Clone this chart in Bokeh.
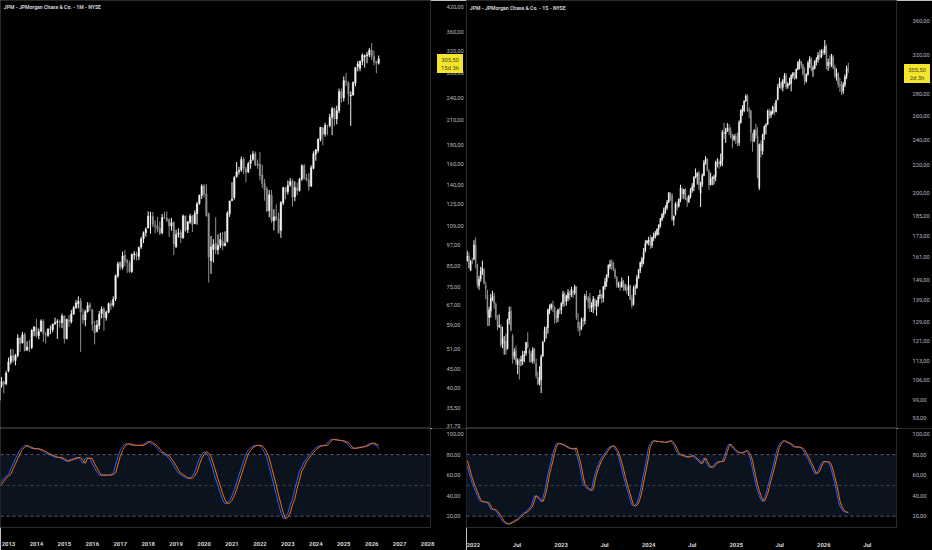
import pandas as pd
from bokeh.plotting import figure
from bokeh.models import (Range1d, FixedTicker, CustomJSTickFormatter, BoxAnnotation,
                          Span, Label, ColumnDataSource)
from bokeh.models import dom as bdom
from bokeh.layouts import gridplot
from bokeh.embed import file_html
from bokeh.resources import INLINE

# ---------------- data: monthly JPM (Sep 2012 .. Apr 2026) ----------------
m_open = [37.2, 40.6, 41.7, 41.2,
          44.6, 47.1, 49.0, 47.5, 49.0, 54.6, 53.0, 55.8, 50.6, 51.6, 51.5, 57.0,
          58.3, 55.4, 56.9, 60.5, 55.8, 55.5, 57.7, 57.5, 59.6, 60.2, 60.4, 60.0,
          62.6, 54.4, 61.0, 60.4, 63.3, 65.8, 67.5, 68.6, 63.0, 61.0, 64.2, 67.0,
          64.9, 59.0, 56.9, 59.0, 63.4, 65.3, 61.8, 64.0, 67.6, 66.9, 69.5, 80.1,
          87.3, 84.5, 91.0, 88.0, 86.6, 82.3, 91.3, 91.8, 90.3, 95.8, 100.8, 104.6,
          107.6, 115.5, 115.5, 109.5, 109.0, 107.3, 104.5, 115.0, 114.4, 113.3, 109.0, 111.5,
          95.9, 103.8, 104.7, 101.5, 116.0, 106.4, 111.6, 115.8, 110.5, 117.5, 125.3, 131.6,
          139.8, 132.8, 117.5, 87.9, 94.3, 98.0, 94.0, 96.6, 99.0, 96.5, 99.0, 117.5,
          127.5, 129.8, 148.0, 152.5, 154.0, 164.5, 155.0, 152.2, 160.3, 164.2, 170.3, 159.9,
          159.7, 149.4, 141.6, 137.0, 120.0, 131.6, 112.4, 115.6, 114.0, 106.0, 125.7, 138.0,
          134.7, 140.3, 143.9, 130.3, 138.0, 135.5, 145.5, 158.0, 146.6, 145.0, 139.5, 155.6,
          169.6, 173.5, 186.0, 199.5, 192.2, 202.6, 202.5, 213.0, 225.0, 210.8, 221.9, 249.6,
          240.5, 266.0, 264.0, 243.0, 244.0, 263.0, 291.0, 288.0, 301.0, 309.5, 311.5, 313.5,
          322.5, 310.0, 300.5, 297.5]
m_high = [42.0, 42.9, 42.0, 44.6,
          48.4, 51.0, 51.0, 49.5, 55.9, 55.0, 56.7, 56.5, 53.5, 54.0, 57.7, 58.6,
          61.5, 57.9, 61.3, 61.3, 56.7, 58.0, 59.0, 59.7, 61.9, 61.3, 61.2, 63.5,
          62.8, 61.5, 62.9, 64.9, 66.5, 69.0, 70.6, 69.9, 65.5, 65.0, 68.1, 68.0,
          65.5, 60.7, 61.0, 64.5, 66.4, 66.2, 64.6, 68.0, 68.8, 70.6, 80.8, 87.4,
          87.4, 93.0, 94.0, 88.9, 88.0, 92.0, 93.3, 93.0, 96.0, 102.0, 105.4, 108.0,
          119.3, 119.0, 118.8, 112.8, 115.1, 112.1, 117.4, 119.0, 119.2, 114.3, 114.5, 112.1,
          106.5, 107.5, 106.4, 117.0, 116.2, 112.4, 117.5, 116.6, 120.0, 126.4, 132.2, 141.1,
          141.1, 141.1, 118.4, 102.5, 100.5, 115.0, 103.5, 104.5, 105.0, 105.4, 119.4, 127.5,
          142.8, 148.2, 161.7, 157.0, 167.4, 166.5, 157.0, 161.9, 169.3, 173.0, 172.5, 164.2,
          172.1, 159.0, 145.5, 138.9, 136.0, 136.0, 120.8, 124.6, 118.4, 127.0, 138.7, 138.7,
          144.3, 146.5, 145.7, 143.5, 142.5, 146.7, 159.4, 159.7, 150.2, 151.0, 158.5, 172.8,
          175.0, 187.0, 200.9, 200.8, 205.9, 203.5, 217.6, 227.0, 226.2, 229.0, 254.3, 254.3,
          274.2, 280.3, 265.7, 250.0, 266.0, 290.0, 301.3, 302.0, 316.0, 314.0, 319.0, 327.0,
          337.0, 321.5, 302.0, 312.0]
m_low = [36.7, 40.2, 38.8, 40.8,
         44.2, 46.4, 46.8, 46.1, 48.5, 50.1, 52.8, 50.3, 50.5, 50.0, 51.0, 55.2,
         54.8, 54.2, 56.6, 53.3, 52.8, 55.0, 55.9, 56.6, 59.2, 54.3, 58.3, 58.0,
         52.8, 54.2, 58.5, 59.7, 63.0, 65.4, 65.6, 50.1, 59.6, 58.7, 63.9, 64.5,
         57.1, 52.5, 56.5, 57.6, 61.6, 57.1, 60.8, 63.6, 64.9, 66.1, 68.6, 79.2,
         83.0, 83.3, 85.0, 81.6, 81.6, 81.6, 88.5, 88.1, 88.3, 94.6, 98.1, 102.0,
         107.4, 103.9, 108.0, 104.2, 104.9, 103.0, 103.5, 113.8, 111.6, 101.8, 105.8, 91.1,
         95.1, 101.5, 98.1, 100.6, 105.1, 104.3, 110.4, 104.9, 110.4, 109.9, 124.2, 128.8,
         129.9, 115.4, 76.9, 81.1, 87.0, 91.6, 91.4, 95.0, 93.8, 96.2, 98.3, 115.3,
         126.9, 128.2, 146.8, 149.8, 152.1, 150.0, 142.6, 151.0, 155.1, 162.9, 157.6, 155.1,
         144.3, 137.8, 127.3, 118.8, 115.0, 111.2, 106.1, 112.5, 104.0, 101.3, 124.0, 128.4,
         132.3, 138.8, 123.1, 127.0, 131.8, 134.8, 144.0, 145.0, 143.5, 135.2, 138.5, 154.5,
         163.0, 171.3, 183.6, 179.2, 189.1, 190.9, 200.4, 190.9, 202.2, 204.0, 218.6, 233.2,
         235.0, 258.5, 230.5, 202.2, 244.5, 258.0, 283.0, 283.0, 294.0, 289.5, 297.5, 309.0,
         303.5, 293.5, 279.5, 295.0]
m_close = [40.5, 41.7, 41.1, 44.0,
           47.1, 48.9, 47.5, 49.0, 54.6, 52.8, 55.7, 50.5, 51.7, 51.5, 57.2, 58.5,
           55.4, 56.8, 60.7, 56.0, 55.6, 57.6, 57.7, 59.5, 60.2, 60.5, 60.2, 62.6,
           54.4, 61.3, 60.6, 63.3, 65.8, 67.8, 68.5, 64.1, 61.0, 64.3, 66.7, 66.0,
           59.5, 56.3, 59.2, 63.2, 65.3, 62.1, 64.0, 67.5, 66.6, 69.3, 80.2, 86.3,
           84.6, 90.6, 87.8, 87.0, 82.2, 91.4, 91.8, 90.4, 95.5, 100.6, 104.5, 106.9,
           115.7, 115.5, 110.0, 108.8, 107.0, 104.2, 114.9, 114.6, 112.8, 109.0, 111.2, 97.6,
           103.5, 104.4, 101.2, 116.0, 106.0, 111.8, 116.0, 109.9, 117.7, 124.9, 131.8, 139.4,
           132.4, 116.1, 90.0, 95.8, 97.3, 94.1, 96.6, 100.2, 96.3, 98.0, 117.9, 127.1,
           128.7, 147.2, 152.2, 153.8, 164.2, 155.5, 151.8, 160.0, 163.7, 169.9, 158.8, 158.4,
           148.6, 141.8, 136.3, 119.4, 132.2, 112.6, 115.4, 113.7, 104.5, 125.9, 138.2, 134.1,
           140.0, 143.4, 130.3, 138.2, 135.7, 145.4, 158.0, 146.3, 145.0, 139.1, 156.1, 170.1,
           174.4, 186.1, 200.3, 191.7, 202.6, 202.3, 212.8, 224.8, 210.9, 221.9, 249.7, 239.7,
           267.3, 264.7, 245.3, 244.6, 264.0, 289.9, 296.2, 301.4, 313.0, 311.5, 313.5, 322.5,
           310.0, 300.5, 297.5, 305.5]
m_k = [51, 54, 57, 59,
       60.6, 66, 71, 76, 80.5, 85, 87, 89, 88, 87, 86, 85.5,
       86, 85, 84.3, 83, 81.5, 80.5, 79.5, 78.5, 77.5, 77.3, 77, 76,
       74.5, 73.5, 74.5, 75.4, 76, 77, 77.2, 74.5, 71.4, 76.6, 76.5, 76,
       71, 67, 63, 60, 60, 60, 60, 60, 60.5, 62, 70, 78,
       84, 88, 90, 90.5, 90, 89.2, 89, 89, 89, 89, 90, 91.5,
       93, 91.5, 90, 88.3, 85.5, 82.8, 81.5, 80, 79, 76, 73, 69,
       65, 62, 60.5, 59, 57.5, 57, 57, 59, 63, 70, 76, 80,
       82.8, 81.5, 78, 71, 64, 56, 49.8, 42, 36, 32, 33, 35.5,
       40, 46, 53, 60, 67, 74, 80.6, 84, 86.8, 88, 89, 89,
       88.5, 86, 82, 76.5, 68, 59, 50.5, 41, 32, 23.7, 17.5, 19,
       23, 31, 37, 47, 55, 64, 68, 73, 76, 79, 82, 84.5,
       86.5, 88, 88.5, 88.8, 89, 91.5, 94, 95, 94.5, 94, 93.8, 93.5,
       92.5, 91.8, 89, 86.5, 86, 86.3, 86.8, 87.2, 87.6, 88.2, 89.3, 90.5,
       91.4, 90.2, 89, 85.8]
m_d = [49, 51, 54, 57,
       59, 60.6, 66, 71, 76, 80.5, 85, 87, 89, 88, 87, 86,
       85.5, 86, 85, 84.3, 83, 81.5, 80.5, 79.5, 78.5, 77.5, 77.3, 77,
       76, 74.5, 73.5, 74.5, 75.4, 76, 77, 77.2, 74.5, 71.4, 76.6, 76.5,
       76, 71, 67, 63, 60, 60, 60, 60, 60, 60.5, 62, 70,
       78, 84, 88, 90, 90.5, 90, 89.2, 89, 89, 89, 89, 90,
       91.5, 93, 91.5, 90, 88.3, 85.5, 82.8, 81.5, 80, 79, 76, 73,
       69, 65, 62, 60.5, 59, 57.5, 57, 57, 59, 63, 70, 76,
       80, 82.8, 81.5, 78, 71, 64, 56, 49.8, 42, 36, 32, 33,
       35.5, 40, 46, 53, 60, 67, 74, 80.6, 84, 86.8, 88, 89,
       89, 88.5, 86, 82, 76.5, 68, 59, 50.5, 41, 32, 23.7, 17.5,
       19, 23, 31, 37, 47, 55, 64, 68, 73, 76, 79, 82,
       84.5, 86.5, 88, 88.5, 88.8, 89, 91.5, 94, 95, 94.5, 94, 93.8,
       93.5, 92.5, 91.8, 89, 86.5, 86, 86.3, 86.8, 87.2, 87.6, 88.2, 89.3,
       90.5, 91.4, 90.2, 89]

# ---------------- data: weekly JPM (week of 6 Dec 2021 .. 13 Apr 2026) ----------------
w_open = [159.0, 161.5, 154.0, 158.5,
          159.7, 167.5, 157.0, 146.0, 149.4, 153.5, 154.0, 146.0, 141.6,
          131.0, 134.0, 140.0, 141.0, 137.0, 131.0, 127.0, 127.0,
          120.0, 120.5, 121.0, 118.0, 130.0, 134.0, 123.0, 115.0, 117.0,
          111.5, 113.0, 113.0, 113.0, 115.0, 116.0, 120.0, 117.0, 116.0,
          113.0, 118.0, 112.0, 107.0, 105.0, 106.0, 115.0, 121.0, 126.0,
          126.5, 134.0, 135.5, 136.5, 135.5, 131.5, 131.0, 134.5,
          134.5, 137.5, 142.0, 138.5, 140.0, 142.0, 141.5, 143.0, 142.5,
          145.5, 129.0, 127.0, 126.0, 130.0, 129.5, 141.0, 140.0,
          140.0, 135.5, 136.0, 139.5, 136.0, 137.5, 141.0, 141.5, 140.0,
          145.5, 148.0, 151.5, 156.0, 158.0, 157.5, 154.0, 150.0, 146.5,
          146.5, 145.5, 148.0, 145.0, 145.0, 144.0, 146.0, 139.5, 137.0,
          145.0, 145.0, 150.0, 154.0, 157.5, 160.0, 164.5, 169.0,
          169.5, 170.0, 167.5, 172.0, 173.0, 174.0, 177.0, 179.0, 183.0,
          186.0, 188.5, 190.5, 194.0, 199.5, 198.5, 183.0, 186.0, 192.5,
          191.5, 195.5, 203.0, 199.5, 202.5, 196.5, 194.5, 198.0,
          202.5, 204.5, 211.0, 212.0, 214.0, 200.0, 206.0, 212.5, 222.0,
          224.5, 216.0, 206.0, 210.0, 210.5, 211.5, 222.0, 222.5, 221.0,
          223.0, 246.0, 245.0, 248.0, 249.5, 247.0, 242.5, 240.5, 243.0,
          240.5, 237.5, 254.5, 265.0, 265.0, 274.0, 278.5, 265.5,
          265.0, 245.0, 239.0, 248.0, 243.0, 204.0, 236.5, 231.0, 244.0,
          251.0, 253.0, 265.0, 261.0, 263.0, 268.0, 264.0, 275.0, 288.0,
          291.0, 287.0, 293.5, 298.5, 288.0, 290.0, 290.5, 298.5,
          301.0, 296.0, 305.0, 312.0, 313.0, 309.5, 300.0, 293.0, 300.0,
          311.5, 316.0, 305.0, 306.0, 313.5, 315.5, 320.0, 318.0, 325.0,
          322.5, 330.0, 309.0, 312.5, 310.0, 318.5, 307.0, 298.0,
          300.5, 290.0, 288.0, 283.0, 289.5, 297.5, 306.0]
w_high = [164.5, 163.5, 159.5, 160.5,
          170.5, 172.1, 157.5, 151.0, 155.7, 159.0, 155.0, 148.0, 144.0,
          136.0, 142.0, 143.5, 142.5, 138.0, 132.0, 132.5, 128.0,
          127.0, 123.0, 124.0, 130.5, 136.0, 136.0, 124.0, 118.0, 119.0,
          114.0, 114.0, 115.0, 117.0, 117.0, 120.5, 124.6, 118.0, 117.0,
          118.4, 118.0, 114.0, 109.0, 111.0, 115.5, 121.0, 127.0, 127.0,
          135.0, 137.0, 137.5, 138.7, 136.0, 134.0, 135.0, 135.5,
          138.0, 143.5, 143.0, 141.5, 144.3, 143.5, 145.5, 144.0, 146.5,
          145.7, 133.0, 129.0, 131.0, 131.0, 142.0, 143.5, 141.0,
          142.5, 138.0, 141.0, 140.0, 139.0, 141.5, 144.0, 142.0, 146.0,
          150.0, 151.8, 157.0, 159.4, 159.7, 158.5, 155.0, 151.0, 148.0,
          148.0, 150.2, 149.0, 147.0, 146.5, 151.0, 146.5, 141.5, 146.0,
          146.5, 151.5, 154.5, 158.5, 161.0, 166.0, 170.5, 170.7,
          172.5, 173.5, 172.5, 175.0, 176.0, 177.5, 180.0, 184.0, 187.0,
          190.5, 192.0, 195.5, 200.9, 200.8, 200.0, 185.5, 194.0, 194.5,
          196.5, 205.9, 204.0, 203.0, 203.5, 198.0, 199.0, 203.5,
          207.0, 212.0, 217.6, 215.0, 216.0, 208.0, 214.0, 224.0, 227.0,
          225.5, 217.0, 214.5, 212.0, 213.0, 223.5, 225.5, 224.5, 229.0,
          248.0, 254.3, 250.0, 254.0, 253.0, 250.5, 245.0, 244.5, 245.0,
          246.0, 256.5, 266.0, 270.0, 274.0, 280.3, 280.0, 268.0,
          265.7, 245.5, 249.0, 253.5, 250.5, 237.0, 239.5, 245.0, 252.0,
          254.0, 266.0, 267.0, 265.0, 269.5, 272.0, 275.0, 290.0, 296.5,
          293.0, 295.0, 301.3, 301.0, 292.0, 296.5, 300.0, 302.0,
          302.0, 306.0, 314.0, 316.0, 314.0, 311.0, 307.0, 301.0, 314.0,
          319.0, 318.0, 309.0, 314.5, 318.0, 323.5, 326.0, 326.5, 327.0,
          337.0, 332.0, 316.5, 320.0, 321.5, 320.5, 310.0, 306.0,
          302.0, 296.5, 293.0, 292.0, 300.0, 309.0, 312.0]
w_low = [158.5, 154.8, 153.5, 157.0,
         159.5, 155.0, 145.0, 144.0, 148.0, 151.5, 146.5, 139.5, 127.3,
         127.3, 131.0, 138.5, 135.0, 130.0, 125.5, 126.5, 118.5,
         118.0, 115.5, 115.4, 117.5, 128.0, 125.0, 112.0, 113.5, 111.5,
         108.0, 106.1, 111.0, 111.5, 112.5, 115.0, 118.0, 112.5, 112.5,
         112.0, 112.0, 106.5, 104.0, 104.0, 101.3, 114.5, 120.5, 122.0,
         124.0, 132.5, 134.5, 133.5, 128.4, 128.5, 129.0, 132.5,
         132.5, 136.0, 136.0, 136.5, 138.5, 139.0, 140.5, 140.0, 141.5,
         130.0, 125.0, 123.1, 125.5, 127.0, 128.0, 139.0, 135.0,
         133.5, 133.5, 133.0, 134.5, 131.8, 136.0, 139.5, 137.5, 138.0,
         144.0, 145.5, 150.0, 154.5, 154.0, 153.5, 149.5, 145.0, 145.0,
         143.5, 145.0, 143.5, 143.5, 142.0, 141.0, 139.0, 135.2, 136.5,
         141.5, 144.5, 149.5, 152.5, 155.5, 157.0, 163.5, 168.0,
         167.5, 165.5, 166.0, 170.0, 171.5, 173.0, 173.5, 178.0, 182.0,
         184.0, 186.5, 189.0, 193.5, 195.0, 182.0, 179.2, 185.5, 188.5,
         190.5, 194.0, 196.5, 196.0, 195.5, 190.9, 193.5, 196.5,
         200.4, 201.5, 210.5, 206.0, 202.5, 190.9, 204.5, 212.0, 220.5,
         215.5, 202.2, 205.5, 205.5, 206.0, 208.5, 218.5, 217.5, 219.0,
         219.5, 240.5, 237.5, 246.5, 244.0, 241.0, 233.2, 239.0, 236.5,
         235.0, 235.0, 253.5, 260.5, 263.5, 273.0, 264.0, 258.5,
         238.5, 230.5, 238.0, 241.0, 210.5, 202.2, 226.0, 228.0, 240.0,
         244.5, 252.5, 258.0, 258.5, 261.5, 261.0, 263.5, 274.5, 286.0,
         284.5, 283.0, 290.5, 285.0, 285.5, 289.0, 283.0, 295.5,
         294.0, 295.0, 304.0, 305.0, 306.0, 298.5, 289.5, 291.5, 298.5,
         306.5, 303.0, 297.5, 305.0, 309.0, 312.0, 315.5, 317.0, 320.0,
         320.5, 305.0, 303.5, 306.0, 307.5, 305.0, 296.0, 293.5,
         286.5, 282.5, 279.5, 280.5, 287.0, 295.0, 301.5]
w_close = [161.5, 155.2, 158.5, 158.4,
           167.8, 157.9, 147.0, 149.3, 153.5, 155.0, 147.5, 144.5, 132.5,
           134.5, 140.0, 140.5, 137.5, 131.0, 127.0, 127.5, 119.4,
           122.0, 120.5, 117.3, 130.0, 133.5, 125.5, 114.0, 116.5, 112.5,
           113.2, 111.9, 113.5, 115.4, 115.2, 120.4, 118.6, 116.0, 112.5,
           117.5, 113.0, 107.5, 104.5, 106.5, 114.6, 120.5, 125.5, 126.0,
           134.5, 135.5, 137.0, 136.0, 131.5, 130.5, 134.5, 134.1,
           137.5, 142.0, 138.5, 141.0, 142.5, 141.5, 144.0, 142.5, 145.5,
           131.0, 126.5, 125.5, 130.3, 129.5, 141.0, 140.0, 138.2,
           135.5, 136.5, 139.5, 136.5, 137.5, 140.5, 141.5, 140.0, 145.4,
           148.0, 151.5, 156.5, 157.0, 157.0, 154.5, 150.5, 146.0, 146.5,
           145.5, 148.0, 145.0, 145.0, 144.0, 146.0, 139.5, 136.5, 145.0,
           145.0, 150.0, 154.0, 158.0, 160.0, 164.0, 168.5, 170.1,
           170.5, 167.5, 172.0, 173.0, 174.5, 177.0, 179.5, 183.5, 186.0,
           188.5, 190.5, 194.0, 200.3, 198.5, 182.8, 185.0, 193.0, 191.0,
           196.0, 203.5, 199.5, 202.6, 197.0, 194.5, 198.0, 202.3,
           204.5, 211.0, 212.0, 214.0, 206.0, 206.0, 212.5, 222.0, 224.8,
           216.5, 206.0, 210.0, 210.5, 211.5, 222.0, 222.5, 221.0, 223.0,
           246.0, 245.0, 247.5, 249.7, 247.0, 242.5, 240.5, 243.0, 240.5,
           237.5, 254.5, 265.5, 267.3, 274.0, 278.5, 265.0, 264.7,
           246.0, 238.5, 247.5, 243.5, 211.0, 236.2, 231.0, 244.0, 251.0,
           252.5, 265.0, 260.5, 264.0, 268.5, 263.5, 274.0, 287.0, 291.0,
           286.5, 293.5, 298.5, 287.0, 290.0, 290.5, 298.5, 301.4,
           296.0, 305.0, 312.0, 313.0, 309.5, 300.0, 293.0, 299.5, 311.5,
           316.0, 305.0, 306.0, 313.5, 315.5, 320.0, 318.0, 325.0, 322.5,
           330.0, 309.0, 312.5, 310.0, 318.5, 307.0, 298.0, 300.5,
           290.0, 288.0, 283.0, 289.5, 297.5, 306.0, 305.5]
w_k = [69, 63, 57, 52, 48, 44, 40, 36, 34.5, 34,
       34, 33.5, 33, 30, 27, 26.5, 26.4, 25, 23, 20.5,
       18, 15, 13.8, 13, 12.3, 13, 13.8, 14.5, 15.5, 16.5,
       17.5, 19.5, 21, 22.6, 23.5, 24.2, 26, 28, 30, 35,
       40, 39, 37.5, 36, 34, 38, 43.5, 52, 61, 67.5,
       74, 81, 87, 90.5, 91, 90.5, 90, 89.5, 88.5, 87.5,
       86.5, 86, 85.5, 85.5, 86.5, 81, 75, 68, 59, 51.6,
       49, 47.5, 46.5, 45, 46, 54, 61, 66, 70, 74,
       77, 79.5, 81.5, 84, 86.5, 87.5, 88.5, 88, 85.5, 83,
       78, 72, 66, 59, 53, 47, 42, 36, 31, 30,
       30.6, 33, 37.5, 44, 53, 61, 69, 78, 88, 91,
       93, 93.5, 93, 92.8, 92.6, 92.4, 92.2, 92, 91.9, 92.5,
       93, 93.5, 91.5, 89, 85.5, 82, 80.5, 79.5, 79, 78.5,
       78, 77.4, 78, 78.5, 79, 77.5, 76, 74.8, 73, 71,
       74, 76.8, 73.5, 70.5, 68, 67.7, 68, 70, 72, 72.8,
       73, 73.3, 73.5, 78, 83, 88, 90.3, 88.5, 86.5, 85,
       83, 82, 81.8, 81.5, 82, 83, 83.9, 82, 79, 74,
       66, 58, 51, 45, 40, 36, 34.5, 38, 42, 48,
       55, 61, 67, 74, 81, 87, 90, 92, 93.5, 93,
       92, 91.5, 90.5, 89.5, 87.7, 87.5, 87.3, 87.2, 87, 86,
       84.5, 82, 78.5, 76, 72, 69, 65, 61.5, 62, 64,
       68, 71.5, 73.5, 73, 73, 72.6, 70, 65, 58, 52,
       44, 35.5, 30, 27, 25, 24.2, 23.5, 24.2]
w_d = [74, 69, 63, 57, 52, 48, 44, 40, 36, 34.5,
       34, 34, 33.5, 33, 30, 27, 26.5, 26.4, 25, 23,
       20.5, 18, 15, 13.8, 13, 12.3, 13, 13.8, 14.5, 15.5,
       16.5, 17.5, 19.5, 21, 22.6, 23.5, 24.2, 26, 28, 30,
       35, 40, 39, 37.5, 36, 34, 38, 43.5, 52, 61,
       67.5, 74, 81, 87, 90.5, 91, 90.5, 90, 89.5, 88.5,
       87.5, 86.5, 86, 85.5, 85.5, 86.5, 81, 75, 68, 59,
       51.6, 49, 47.5, 46.5, 45, 46, 54, 61, 66, 70,
       74, 77, 79.5, 81.5, 84, 86.5, 87.5, 88.5, 88, 85.5,
       83, 78, 72, 66, 59, 53, 47, 42, 36, 31,
       30, 30.6, 33, 37.5, 44, 53, 61, 69, 78, 88,
       91, 93, 93.5, 93, 92.8, 92.6, 92.4, 92.2, 92, 91.9,
       92.5, 93, 93.5, 91.5, 89, 85.5, 82, 80.5, 79.5, 79,
       78.5, 78, 77.4, 78, 78.5, 79, 77.5, 76, 74.8, 73,
       71, 74, 76.8, 73.5, 70.5, 68, 67.7, 68, 70, 72,
       72.8, 73, 73.3, 73.5, 78, 83, 88, 90.3, 88.5, 86.5,
       85, 83, 82, 81.8, 81.5, 82, 83, 83.9, 82, 79,
       74, 66, 58, 51, 45, 40, 36, 34.5, 38, 42,
       48, 55, 61, 67, 74, 81, 87, 90, 92, 93.5,
       93, 92, 91.5, 90.5, 89.5, 87.7, 87.5, 87.3, 87.2, 87,
       86, 84.5, 82, 78.5, 76, 72, 69, 65, 61.5, 62,
       64, 68, 71.5, 73.5, 73, 73, 72.6, 70, 65, 58,
       52, 44, 35.5, 30, 27, 25, 24.2, 23.5]

left_price_ticks = [31.7, 35.5, 40, 45, 51, 59, 67, 75, 85, 97, 109, 125, 140, 160, 180,
                    210, 240, 280, 320, 360, 420]
right_price_ticks = [93, 99, 106, 113, 121, 129, 139, 149, 161, 173, 185, 200, 220, 240,
                     260, 280, 320, 360]
stoch_ticks = [20, 40, 60, 80, 100]
left_year_ticks = list(range(2013, 2029))
right_time_ticks = [2022, 2022.496, 2023, 2023.496, 2024, 2024.497, 2025, 2025.496, 2026, 2026.496]
left_title = "JPM - JPMorgan Chase & Co. - 1M - NYSE"
right_title = "JPM - JPMorgan Chase & Co. - 1S - NYSE"
last_price = 305.5
left_countdown = "15d 3h"
right_countdown = "2d 3h"

# ---------------- styling ----------------
BG = "#000000"
LINE = "#2a2a2a"
TXT = "#b8bac0"
UP = "#f4f4f4"
DOWN = "#8f8f8f"
BAND = "#0b131e"
FONT = "Roboto"
PANEL_W = 466
AXIS_W = 34
PRICE_H = 428
STOCH_H = 122
TIME_H = 20

m_dates = pd.date_range("2012-09-01", periods=len(m_close), freq="MS")
m_t = [d.year + (d.month - 1) / 12 for d in m_dates]
w_dates = pd.date_range("2021-12-06", periods=len(w_close), freq="7D")
w_t = [d.year + (d.dayofyear - 1) / (366 if d.is_leap_year else 365) for d in w_dates]

num_fmt = CustomJSTickFormatter(code="return tick.toFixed(2).replace('.', ',');")


def style_yaxis(ax, ticks):
    ax.ticker = FixedTicker(ticks=ticks)
    ax.formatter = num_fmt
    ax.major_label_text_font = FONT
    ax.major_label_text_font_size = "5.7px"
    ax.major_label_text_color = TXT
    ax.major_tick_line_color = None
    ax.minor_tick_line_color = None
    ax.axis_line_color = None
    ax.major_label_standoff = 10


def price_fig(xr, y0, y1, ticks):
    p = figure(width=PANEL_W, height=PRICE_H, x_range=xr, y_range=Range1d(y0, y1),
               y_axis_type="log", y_axis_location="right", x_axis_location=None,
               toolbar_location=None, output_backend="svg",
               min_border_left=0, min_border_right=AXIS_W, min_border_top=0, min_border_bottom=0,
               background_fill_color=BG, border_fill_color=BG, outline_line_color=LINE)
    p.grid.visible = False
    style_yaxis(p.yaxis[0], ticks)
    return p


def candles(p, t, o, h, l, c, w):
    col = [UP if ci >= oi else DOWN for oi, ci in zip(o, c)]
    src = ColumnDataSource(dict(t=t, h=h, l=l,
                                top=[max(a, b) for a, b in zip(o, c)],
                                bot=[min(a, b) for a, b in zip(o, c)], col=col))
    p.segment("t", "h", "t", "l", source=src, line_color="col", line_width=1)
    p.vbar(x="t", width=w, top="top", bottom="bot", source=src,
           fill_color="col", line_color="col", line_width=0.4)


def make_styles(**kw):
    try:
        return bdom.Styles(**kw)
    except Exception:
        return {k.replace("_", "-"): v for k, v in kw.items()}


def dom_div(style_kw, children):
    st = make_styles(**style_kw)
    try:
        return bdom.Div(style=st, children=children)
    except Exception:
        d = bdom.Div(children=children)
        d.styles = st
        return d


def stoch_fig(xr, t, k, d, xticks, xcode):
    s = figure(width=PANEL_W, height=STOCH_H, x_range=xr, y_range=Range1d(9, 105.4),
               y_axis_location="right", toolbar_location=None, output_backend="svg",
               min_border_left=0, min_border_right=AXIS_W, min_border_top=0,
               min_border_bottom=TIME_H,
               background_fill_color=BG, border_fill_color=BG, outline_line_color=LINE)
    s.grid.visible = False
    style_yaxis(s.yaxis[0], stoch_ticks)
    xa = s.xaxis[0]
    xa.ticker = FixedTicker(ticks=xticks)
    xa.formatter = CustomJSTickFormatter(code=xcode)
    xa.major_label_text_font = FONT
    xa.major_label_text_font_size = "5.9px"
    xa.major_label_text_font_style = "bold"
    xa.major_label_text_color = "#d6d8dd"
    xa.major_tick_line_color = None
    xa.minor_tick_line_color = None
    xa.axis_line_color = None
    xa.major_label_standoff = 8
    s.add_layout(BoxAnnotation(bottom=20, top=80, fill_color=BAND, fill_alpha=1,
                               line_color=None, level="underlay"))
    for v, a in ((80, 0.75), (50, 0.45), (20, 0.75)):
        s.add_layout(Span(location=v, dimension="width", line_color="#787b86",
                          line_alpha=a, line_dash="3 3", line_width=1))
    s.line(t, k, line_color="#2962FF", line_width=1)
    s.line(t, d, line_color="#FF6D00", line_width=1)
    # pane separator continuing through the price-scale column
    sep = dom_div(dict(position="absolute", left=f"{PANEL_W - AXIS_W}px", top="0px",
                       width=f"{AXIS_W}px", height="1px", background_color=LINE,
                       z_index="5"), [])
    s.elements = list(s.elements) + [sep]
    return s


def add_title(p, title, tx, ty):
    p.add_layout(Label(x=tx, y=ty, text=title, text_font=FONT, text_font_size="5.1px",
                       text_font_style="bold", text_color="#d1d4dc",
                       text_baseline="middle", text_align="left"))


def price_box(p, left, top, countdown):
    price_txt = f"{last_price:.2f}".replace(".", ",")
    lines = [bdom.Div(children=[price_txt]), bdom.Div(children=[countdown])]
    box = dom_div(dict(position="absolute", left=f"{left}px", top=f"{top}px",
                       width="26px", height="19px", background_color="#f3e52c",
                       color="#4a4620", font_family="Roboto, sans-serif", font_size="5.9px",
                       line_height="8px", text_align="center", padding_top="1.5px",
                       box_sizing="border-box", z_index="10"), lines)
    p.elements = list(p.elements) + [box]


# left panel (monthly)
lx0, lx1 = 2012.715, 2028.105
lxr = Range1d(lx0, lx1)
lp = price_fig(lxr, 31.25, 438, left_price_ticks)
candles(lp, m_t, m_open, m_high, m_low, m_close, 0.055)
lppx = (lx1 - lx0) / (PANEL_W - AXIS_W)
add_title(lp, left_title, lx0 + 3.3 * lppx, 419.5)
price_box(lp, 437, 54, left_countdown)
ls = stoch_fig(lxr, m_t, m_k, m_d, left_year_ticks, "return String(Math.round(tick));")

# right panel (weekly)
rx0, rx1 = 2021.920, 2026.830
rxr = Range1d(rx0, rx1)
rp = price_fig(rxr, 89.8, 385.6, right_price_ticks)
candles(rp, w_t, w_open, w_high, w_low, w_close, 0.012)
rppx = (rx1 - rx0) / (PANEL_W - AXIS_W)
add_title(rp, right_title, rx0 + 3.3 * rppx, 376.5)
price_box(rp, 438, 64, right_countdown)
rs = stoch_fig(rxr, w_t, w_k, w_d, right_time_ticks,
               "const y = Math.round(tick); return Math.abs(tick - y) < 1e-6 ? String(y) : 'Jul';")

grid = gridplot([[lp, rp], [ls, rs]], toolbar_location=None)

open("out.html", "w").write(file_html(grid, INLINE))
